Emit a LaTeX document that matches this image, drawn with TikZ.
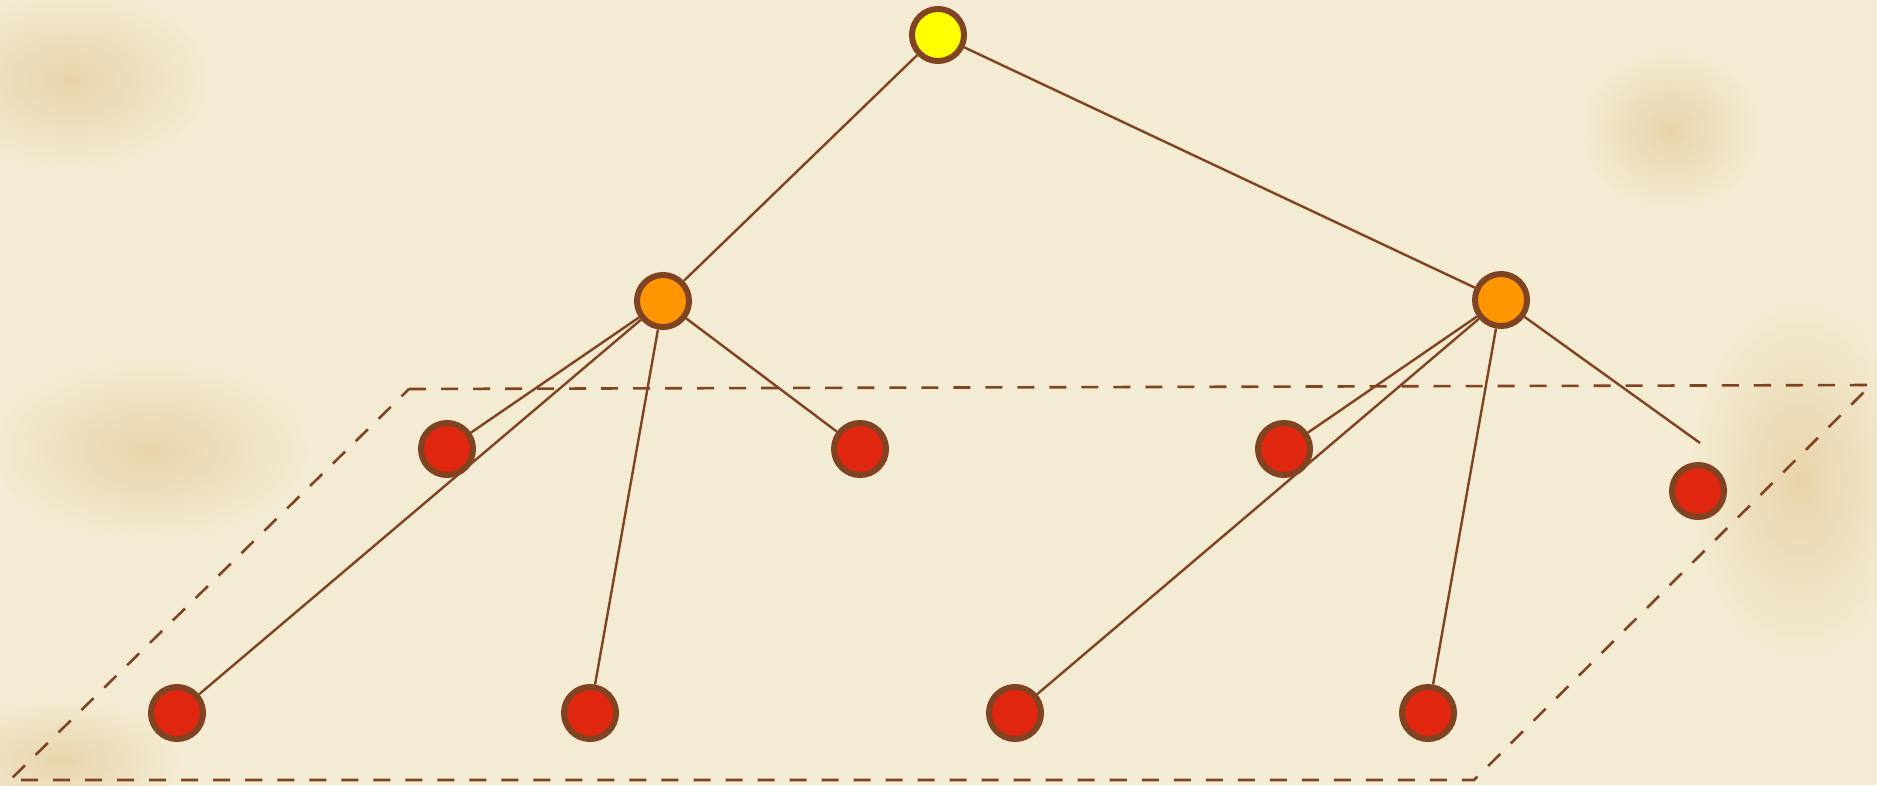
\documentclass[tikz,border=0pt]{standalone}
\usetikzlibrary{positioning}

\definecolor{paper}{RGB}{243,235,210}
\definecolor{stain}{RGB}{232,212,170}
\definecolor{rim}{RGB}{128,68,34}
\definecolor{rootfill}{RGB}{255,255,0}
\definecolor{midfill}{RGB}{255,150,0}
\definecolor{leaffill}{RGB}{224,40,16}

\pgfdeclarelayer{paperlayer}
\pgfdeclarelayer{edgelayer}
\pgfsetlayers{paperlayer,edgelayer,main}

\tikzset{
    dot/.style={circle, draw=rim, line width=0.06cm, minimum size=0.52cm, inner sep=0pt},
    rootdot/.style={dot, fill=rootfill},
    middot/.style={dot, fill=midfill},
    leafdot/.style={dot, fill=leaffill},
    branch/.style={draw=rim, line width=0.024cm},
    plane/.style={draw=rim, line width=0.026cm, dash pattern=on 0.17cm off 0.15cm},
    blot/.style={inner color=stain, outer color=paper}
}

\begin{document}
\begin{tikzpicture}[x=0.01cm, y=-0.01cm]
    \useasboundingbox (0,0) rectangle (1877,785);

    % paper
    \begin{pgfonlayer}{paperlayer}
        \fill[paper] (0,0) rectangle (1877,785);
        \shade[blot] (70,80) ellipse (140 and 90);
        \shade[blot] (150,450) ellipse (160 and 90);
        \shade[blot] (1800,480) ellipse (110 and 180);
        \shade[blot] (1670,130) ellipse (90 and 80);
        \shade[blot] (60,760) ellipse (120 and 60);
    \end{pgfonlayer}

    % root and inner nodes
    \node[rootdot] (root) at (938,35) {};
    \node[middot] (left) at (663,301) {};
    \node[middot] (right) at (1501,300) {};

    % leaves
    \node[leafdot] (la) at (447,449) {};
    \node[leafdot] (lb) at (860,449) {};
    \node[leafdot] (lc) at (177,713) {};
    \node[leafdot] (ld) at (590,713) {};
    \node[leafdot] (ra) at (1284,449) {};
    \node[leafdot] (rb) at (1698,491) {};
    \node[leafdot] (rc) at (1015,713) {};
    \node[leafdot] (rd) at (1428,713) {};
    \coordinate (rend) at (1700,443);

    % plane
    \coordinate (p1) at (409,389);
    \coordinate (p2) at (1871,385);
    \coordinate (p3) at (1474,780);
    \coordinate (p4) at (10,780);

    \begin{pgfonlayer}{edgelayer}
        \draw[plane] (p1) -- (p2) -- (p3) -- (p4) -- cycle;

        \draw[branch] (root) -- (left);
        \draw[branch] (root) -- (right);

        \draw[branch] (left) -- (la);
        \draw[branch] (left) -- (lc);
        \draw[branch] (left) -- (ld);
        \draw[branch] (left) -- (lb);

        \draw[branch] (right) -- (ra);
        \draw[branch] (right) -- (rc);
        \draw[branch] (right) -- (rd);
        \draw[branch] (right) -- (rend);
    \end{pgfonlayer}

\end{tikzpicture}
\end{document}
